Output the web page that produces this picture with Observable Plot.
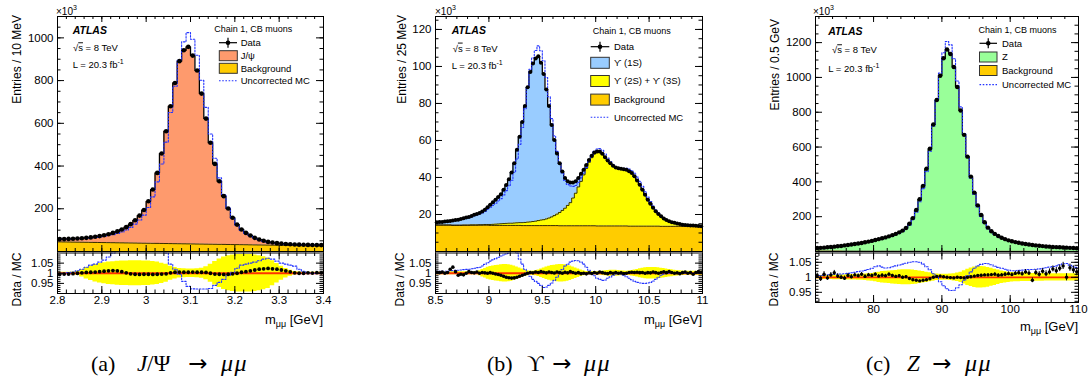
<!DOCTYPE html>
<html><head><meta charset="utf-8">
<script src="https://cdn.jsdelivr.net/npm/d3@7"></script>
<script src="https://cdn.jsdelivr.net/npm/@observablehq/plot@0.6"></script>
<style>
body{margin:0;background:#fff;}
#root{position:relative;width:1089px;height:390px;overflow:hidden;background:#fff;}
#root svg{position:absolute;}
</style></head><body><div id="root"></div>
<script>
// ---------------- DATA ----------------
// J/psi -> mumu : 10 MeV bins from 2.8 GeV
const jpsiBinStart = 2.8, jpsiBinWidth = 0.01;
const jpsiData = [58,58,59,60,61,62,64,66,69,72, 76,81,87,94,103,114,128,146,168,194, 235,290,368,459,563,680,789,891,942,958, 917,847,739,622,509,410,329,259,201,158, 126,103,87,75,64,56,50,45,42,39, 37,35,34,33,32,31.5,31,30.5,30,30];
const jpsiBkg = [45.0,44.7,44.4,44.0,43.7,43.4,43.1,42.8,42.4,42.1, 41.8,41.5,41.2,40.8,40.5,40.2,39.9,39.6,39.2,38.9, 38.6,38.3,38.0,37.6,37.3,37.0,36.7,36.4,36.0,35.7, 35.4,35.1,34.8,34.4,34.1,33.8,33.5,33.2,32.8,32.5, 32.2,31.9,31.6,31.2,30.9,30.6,30.3,30.0,29.6,29.3, 29.0,28.7,28.4,28.0,27.7,27.4,27.1,26.8,26.4,26.1];
const jpsiSignal = [13,13.3,14.6,16,17.3,18.6,20.9,23.2,26.6,29.9, 34.2,39.5,45.8,53.2,62.5,73.8,88.1,106.4,128.8,155.1, 196.4,251.7,330,421.4,525.7,643,752.3,854.6,906,922.3, 881.6,811.9,704.2,587.6,474.9,376.2,295.5,225.8,168.2,125.5, 93.8,71.1,55.4,43.8,33.1,25.4,19.7,15,12.4,9.7, 8,6.3,5.6,5,4.3,4.1,3.9,3.7,3.6,3.9];
const jpsiUncMC = [58,58,58.8,59.6,60.3,60.8,62.1,63.5,66,68.2, 71.4,75,79.1,84.3,91.6,100.9,112.8,128.1,147.4,170.2, 206.1,255.5,325.7,409.8,511.8,650.7,773.5,895.5,981.3,1024.6, 993.5,918.7,801.5,674.6,550.3,436.2,344.5,267,203,157.2, 122.9,99,83.3,71.4,60.7,52.7,46.7,41.9,39.3,36.8, 35.2,33.5,32.7,31.9,31.4,31.2,30.9,30.5,30,30];
const jpsiRatio = [0.995,0.996,0.996,0.998,1.0,1.002,1.004,1.005,1.006,1.008, 1.01,1.012,1.013,1.012,1.008,1.002,0.997,0.995,0.994,0.995, 0.995,0.994,0.995,0.996,0.997,1.002,1.005,1.006,1.005,1.005, 1.006,1.005,1.005,1.004,1.0,0.996,0.995,0.994,0.995,0.997, 1.0,1.005,1.008,1.012,1.016,1.02,1.022,1.024,1.022,1.02, 1.016,1.012,1.007,1.002,1.0,1.0,1.002,1.001,1.003,1.002];
const jpsiSyst = [0.005,0.005,0.005,0.006,0.01,0.018,0.028,0.036,0.043,0.048, 0.052,0.055,0.057,0.059,0.06,0.061,0.062,0.062,0.062,0.061, 0.06,0.058,0.055,0.05,0.045,0.035,0.028,0.024,0.022,0.021, 0.021,0.022,0.025,0.032,0.045,0.058,0.07,0.08,0.087,0.09, 0.092,0.093,0.093,0.092,0.09,0.087,0.082,0.075,0.062,0.048, 0.035,0.024,0.015,0.009,0.006,0.005,0.005,0.005,0.005,0.005];
const jpsiUncRatio = [1.0,1.0,1.003,1.006,1.012,1.02,1.03,1.04,1.045,1.055, 1.065,1.08,1.10,1.115,1.125,1.13,1.135,1.14,1.14,1.14, 1.14,1.135,1.13,1.12,1.10,1.045,1.02,0.995,0.96,0.935, 0.923,0.922,0.922,0.922,0.925,0.94,0.955,0.97,0.99,1.005, 1.025,1.04,1.045,1.05,1.055,1.062,1.07,1.074,1.07,1.06, 1.05,1.045,1.04,1.035,1.02,1.01,1.003,1.0,1.0,1.0];

// Upsilon -> mumu : 25 MeV bins from 8.5 GeV
const upsBinStart = 8.5, upsBinWidth = 0.025;
const upsData = [15.8,15.9,16.0,16.2,16.3,16.5,16.8,17.0,17.2,17.6, 18.0,18.4,18.7,19.2,19.8,20.3,20.8,21.6,22.6,23.9, 25.3,26.6,28.0,29.5,31.0,33.4,36.0,39.0,42.7,47.7, 55.0,62.0,70.0,78.6,88.7,97.0,101.6,104.3,105.5,102.0, 95.9,87.6,78.6,68.4,60.3,53.0,47.7,43.3,39.7,37.9, 37.3,37.3,37.9,39.7,42.0,44.2,46.8,49.5,51.7,53.5, 54.0,54.0,52.8,51.0,49.2,47.7,46.3,45.4,45.0,44.7, 44.5,44.2,43.4,42.4,40.6,38.4,36.1,33.4,30.7,28.0, 25.8,23.7,21.7,20.3,19.0,17.9,17.0,16.3,15.8,15.5, 15.1,14.8,14.5,14.3,14.2,14.1,14.0,13.9,13.8,13.7];
const upsBkg = [14.3,14.3,14.3,14.3,14.3,14.3,14.2,14.2,14.2,14.2, 14.2,14.2,14.2,14.2,14.2,14.2,14.2,14.2,14.2,14.2, 14.1,14.1,14.1,14.1,14.1,14.1,14.1,14.1,14.1,14.1, 14.1,14.1,14.0,14.0,14.0,14.0,14.0,14.0,14.0,14.0, 14.0,14.0,14.0,14.0,14.0,14.0,13.9,13.9,13.9,13.9, 13.9,13.9,13.9,13.9,13.9,13.9,13.9,13.9,13.9,13.9, 13.8,13.8,13.8,13.8,13.8,13.8,13.8,13.8,13.8,13.8, 13.8,13.8,13.7,13.7,13.7,13.7,13.7,13.7,13.7,13.7, 13.7,13.7,13.7,13.7,13.6,13.6,13.6,13.6,13.6,13.6, 13.6,13.6,13.6,13.6,13.6,13.6,13.5,13.5,13.5,13.5];
const upsY23S = [0,0,0,0,0,0,0,0,0,0, 0.1,0.1,0.1,0.2,0.2,0.2,0.3,0.3,0.4,0.4, 0.5,0.6,0.7,0.8,0.9,1.0,1.1,1.2,1.2,1.3, 1.4,1.5,1.6,1.7,1.9,2.0,2.2,2.4,2.7,3.0, 3.2,3.6,4.1,4.7,5.4,6.2,7.2,8.3,9.5,11.0, 12.5,15.0,17.6,21.0,24.0,27.5,31.0,34.3,36.8,38.8, 39.6,39.7,38.6,36.9,35.1,33.7,32.3,31.4,31.0,30.7, 30.5,30.2,29.5,28.5,26.7,24.5,22.2,19.5,16.8,14.1, 11.9,9.8,7.8,6.4,5.2,4.1,3.2,2.5,2.0,1.7, 1.3,1.0,0.7,0.5,0.4,0.3,0.3,0.2,0.1,0.0];
const upsY1S = [1.5,1.6,1.7,1.9,2.0,2.2,2.6,2.8,3.0,3.4, 3.7,4.1,4.4,4.8,5.4,5.9,6.3,7.1,8.0,9.3, 10.7,11.9,13.2,14.6,16.0,18.3,20.8,23.7,27.4,32.3, 39.5,46.4,54.4,62.9,72.8,81.0,85.4,87.9,88.8,85.0, 78.7,70.0,60.5,49.7,40.9,32.8,26.6,21.1,16.3,13.0, 10.9,8.4,6.4,4.8,4.1,2.8,1.9,1.3,1.0,0.8, 0.6,0.5,0.4,0.3,0.3,0.2,0.2,0.2,0.2,0.2, 0.2,0.2,0.2,0.2,0.2,0.2,0.2,0.2,0.2,0.2, 0.2,0.2,0.2,0.2,0.2,0.2,0.2,0.2,0.2,0.2, 0.2,0.2,0.2,0.2,0.2,0.2,0.2,0.2,0.2,0.2];
const upsUncMC = [15.6,15.7,15.8,16.0,16.1,16.3,16.6,16.8,16.9,17.3, 17.7,18.1,18.3,18.8,19.3,19.7,20.2,20.8,21.6,22.7, 23.9,24.9,26.1,27.3,28.6,30.6,32.9,35.5,38.5,42.8, 50.0,57.9,67.0,77.1,88.7,98.5,104.7,108.6,111.1,108.5, 103.1,94.0,83.6,71.8,62.5,54.1,47.7,42.5,38.4,36.3, 35.4,35.2,35.7,37.4,39.8,42.3,45.4,48.8,51.7,54.1, 55.4,55.7,54.7,52.7,50.5,48.6,46.8,45.6,45.0,44.8, 44.9,45.0,44.5,43.8,42.3,40.2,37.9,35.2,32.3,29.4, 27.0,24.6,22.4,20.7,19.2,18.0,17.0,16.3,15.8,15.5, 15.1,14.8,14.5,14.3,14.2,14.1,14.0,13.9,13.8,13.7];
const upsRatio = [1.005,1.003,1.006,1.0,1.004,1.02,1.03,1.008,0.99,0.995, 0.992,1.0,1.008,1.004,1.002,1.006,1.0,1.004,1.002,1.0, 1.003,1.0,0.996,0.994,0.99,0.985,0.98,0.978,0.976,0.977, 0.98,0.985,0.99,0.995,1.0,1.004,1.002,1.006,1.004,1.008, 1.005,1.002,1.006,1.004,1.001,1.006,1.003,1.0,1.005,1.002, 1.008,1.004,1.0,1.003,0.998,1.0,0.997,1.002,0.999,1.004, 1.0,1.006,1.003,1.0,0.998,1.003,1.0,1.004,1.0,1.002, 0.998,1.0,1.004,1.005,1.004,1.005,1.003,1.004,1.0,1.003, 1.002,1.006,1.003,1.0,1.004,1.007,1.003,1.009,1.004,1.0, 1.002,0.998,1.003,1.006,1.0,1.004,0.995,1.004,1.008,1.005];
const upsSyst = [0.008,0.008,0.008,0.008,0.008,0.008,0.008,0.008,0.008,0.008, 0.008,0.008,0.008,0.008,0.008,0.008,0.012,0.018,0.024,0.03, 0.033,0.036,0.038,0.04,0.042,0.043,0.043,0.042,0.04,0.036, 0.031,0.026,0.021,0.016,0.012,0.01,0.01,0.012,0.016,0.021, 0.026,0.031,0.035,0.038,0.04,0.042,0.043,0.043,0.042,0.04, 0.036,0.031,0.026,0.021,0.016,0.012,0.009,0.008,0.008,0.008, 0.008,0.009,0.01,0.012,0.014,0.015,0.015,0.015,0.014,0.012, 0.011,0.01,0.011,0.013,0.016,0.019,0.022,0.025,0.027,0.028, 0.029,0.029,0.028,0.027,0.025,0.023,0.021,0.019,0.017,0.015, 0.013,0.012,0.011,0.01,0.01,0.01,0.01,0.01,0.01,0.01];
const upsUncRatio = [1.01,1.01,1.01,1.01,1.01,1.012,1.013,1.014,1.015,1.016, 1.018,1.019,1.02,1.022,1.025,1.028,1.03,1.036,1.044,1.052, 1.06,1.066,1.072,1.079,1.085,1.09,1.095,1.10,1.11,1.115, 1.10,1.07,1.045,1.02,1.0,0.985,0.97,0.96,0.95,0.94, 0.93,0.932,0.94,0.952,0.965,0.98,1.0,1.018,1.035,1.045, 1.055,1.06,1.063,1.062,1.055,1.045,1.03,1.015,1.0,0.988, 0.975,0.97,0.965,0.967,0.975,0.982,0.99,0.996,1.0,0.997, 0.99,0.983,0.975,0.968,0.96,0.955,0.952,0.95,0.95,0.952, 0.955,0.962,0.97,0.98,0.99,0.995,1.0,1.0,1.0,1.0, 1.0,1.0,1.0,1.0,1.0,1.0,1.0,1.0,1.0,1.0];

// Z -> mumu : 0.5 GeV bins from 71.5 GeV
const zBinStart = 71.5, zBinWidth = 0.5;
const zData = [20,21,22,24,26,28,30,32,35,37, 40,43,46,49,53,57,61,66,71,76, 81,87,94,101,110,120,135,159,192,238, 300,377,475,590,730,870,1010,1110,1160,1135, 1060,945,810,670,545,430,338,265,210,168, 137,116,101,89,79,71,64,59,54,50, 46,43,40,37,35,33,31,29,28,26, 25,24,23,22,21,20,19];
const zBkg = [2.4,2.4,2.3,2.3,2.3,2.2,2.2,2.2,2.1,2.1, 2.1,2.0,2.0,2.0,1.9,1.9,1.9,1.8,1.8,1.8, 1.7,1.7,1.7,1.6,1.6,1.6,1.5,1.5,1.5,1.5, 1.4,1.4,1.4,1.4,1.3,1.3,1.3,1.3,1.3,1.2, 1.2,1.2,1.2,1.2,1.1,1.1,1.1,1.1,1.1,1.0, 1.0,1.0,1.0,1.0,1.0,0.9,0.9,0.9,0.9,0.9, 0.9,0.9,0.8,0.8,0.8,0.8,0.8,0.8,0.8,0.8, 0.7,0.7,0.7,0.7,0.7,0.7,0.7];
const zSignal = [17.6,18.6,19.7,21.7,23.7,25.8,27.8,29.8,32.9,34.9, 37.9,41.0,44.0,47.0,51.1,55.1,59.1,64.2,69.2,74.2, 79.3,85.3,92.3,99.4,108.4,118.4,133.5,157.5,190.5,236.5, 298.6,375.6,473.6,588.6,728.7,868.7,1008.7,1108.7,1158.7,1133.8, 1058.8,943.8,808.8,668.8,543.9,428.9,336.9,263.9,208.9,167.0, 136.0,115.0,100.0,88.0,78.0,70.1,63.1,58.1,53.1,49.1, 45.1,42.1,39.2,36.2,34.2,32.2,30.2,28.2,27.2,25.2, 24.3,23.3,22.3,21.3,20.3,19.3,18.3];
const zUncMC = [19.9,20.9,21.8,23.8,25.8,27.7,29.7,31.7,34.6,36.5, 39.4,42.3,45.1,48,51.8,55.6,59.2,63.8,68.4,73.5, 78.6,84.3,90.8,97.3,105.7,114.9,128.9,151.4,182.5,226.2, 285.7,361.1,458.9,575.6,721.3,870,1025.4,1142,1206,1187, 1107.6,979.3,830.8,676.8,542.3,422.4,328.2,255.3,201.3,160.6, 131.1,111.3,97.4,86.2,76.7,69.1,62.5,57.7,52.8,48.9, 44.9,41.9,39,36.1,34.1,32.1,30.1,28.1,27.1,25.1, 24.1,23,22,21,20.2,19.3,18.4];
const zRatio = [1.005,0.995,1.01,0.998,1.008,1.015,1.004,1.0,0.997,1.006, 1.002,1.008,1.005,1.01,1.003,1.008,1.006,1.01,1.004,1.007, 1.005,1.01,1.006,1.003,1.005,1.0,1.002,0.996,0.992,0.99, 0.988,0.99,0.992,0.995,1.0,1.003,1.004,1.002,1.0,0.999, 0.998,1.0,0.999,0.998,1.0,1.002,1.004,1.006,1.007,1.008, 1.008,1.009,1.01,1.007,1.008,1.01,1.012,1.009,1.013,1.015, 1.012,1.018,1.014,0.99,1.016,1.01,1.02,1.012,1.018,1.028, 1.022,1.03,1.038,1.0,1.032,1.025,1.018];
const zRatioErr = [0.009,0.009,0.009,0.008,0.008,0.008,0.008,0.007,0.007,0.007, 0.007,0.006,0.006,0.006,0.006,0.005,0.005,0.005,0.005,0.005, 0.005,0.005,0.004,0.004,0.004,0.004,0.004,0.003,0.003,0.003, 0.003,0.003,0.003,0.003,0.003,0.003,0.003,0.003,0.003,0.003, 0.003,0.003,0.003,0.003,0.003,0.003,0.003,0.003,0.003,0.003, 0.004,0.004,0.005,0.005,0.005,0.006,0.006,0.006,0.007,0.007, 0.007,0.008,0.008,0.008,0.009,0.009,0.009,0.01,0.01,0.01, 0.011,0.011,0.012,0.012,0.012,0.013,0.013];
const zSyst = [0.006,0.006,0.007,0.007,0.007,0.008,0.008,0.008,0.008,0.009, 0.009,0.009,0.01,0.01,0.011,0.012,0.013,0.015,0.017,0.019, 0.02,0.021,0.022,0.023,0.024,0.025,0.025,0.025,0.024,0.023, 0.021,0.019,0.017,0.015,0.013,0.011,0.01,0.01,0.01,0.011, 0.012,0.014,0.017,0.022,0.027,0.031,0.034,0.036,0.036,0.035, 0.033,0.03,0.027,0.024,0.021,0.019,0.017,0.016,0.015,0.015, 0.014,0.014,0.014,0.013,0.013,0.013,0.013,0.012,0.012,0.012, 0.012,0.012,0.012,0.012,0.012,0.012,0.012];
const zUncRatio = [1.005,1.006,1.007,1.008,1.009,1.01,1.01,1.011,1.012,1.013, 1.015,1.017,1.019,1.021,1.023,1.026,1.03,1.035,1.038,1.034, 1.031,1.032,1.035,1.038,1.041,1.044,1.047,1.05,1.052,1.052, 1.05,1.044,1.035,1.025,1.012,1.0,0.985,0.972,0.962,0.956, 0.957,0.965,0.975,0.99,1.005,1.018,1.03,1.038,1.043,1.046, 1.045,1.042,1.037,1.033,1.03,1.027,1.024,1.022,1.022,1.023, 1.024,1.025,1.026,1.026,1.027,1.028,1.03,1.032,1.034,1.036, 1.038,1.042,1.045,1.046,1.04,1.035,1.033];

// tick labels
const jpsiXTicks = [2.8,2.9,3.0,3.1,3.2,3.3,3.4];
const jpsiYTicks = [200,400,600,800,1000];
const upsXTicks = [8.5,9,9.5,10,10.5,11];
const upsYTicks = [20,40,60,80,100,120];
const zXTicks = [80,90,100,110];
const zYTicks = [200,400,600,800,1000,1200];
const ratioYTicks = [0.95,1,1.05];

// ---------------- DRAWING ----------------
const FONT = '"Liberation Sans", Arial, Helvetica, sans-serif';
const root = document.getElementById("root");

function stepRows(start, bw, vals) {
  const rows = vals.map((v, i) => ({x: start + i * bw, v}));
  rows.push({x: start + vals.length * bw, v: vals[vals.length - 1]});
  return rows;
}
function centerRows(start, bw, vals, errs) {
  return vals.map((v, i) => ({x: start + (i + 0.5) * bw, v, e: errs ? errs[i] : 0}));
}
function stackRows(start, bw, comps) {
  const n = comps[0].length;
  const out = comps.map(() => []);
  for (let i = 0; i <= n; i++) {
    const j = Math.min(i, n - 1);
    let base = 0;
    comps.forEach((c, k) => { out[k].push({x: start + i * bw, y1: base, y2: base + c[j]}); base += c[j]; });
  }
  return out;
}
function ticksY(vals, len, fw) {
  return [Plot.tickY(vals, {y: d => d, insetRight: fw - len, stroke: "#000", strokeWidth: 1}),
          Plot.tickY(vals, {y: d => d, insetLeft: fw - len, stroke: "#000", strokeWidth: 1})];
}
function ticksX(vals, len, fh) {
  return [Plot.tickX(vals, {x: d => d, insetTop: fh - len, stroke: "#000", strokeWidth: 1}),
          Plot.tickX(vals, {x: d => d, insetBottom: fh - len, stroke: "#000", strokeWidth: 1})];
}
function place(svg, left, top) {
  svg.style.left = left + "px"; svg.style.top = top + "px";
  root.appendChild(svg);
}
const plotStyle = {fontFamily: FONT, fontSize: "11.5px", background: "transparent", overflow: "visible", color: "#000"};

function mainPlot(o) {
  const fw = o.width - o.ml - o.mr, fh = o.height - o.mt - o.mb;
  const layers = stackRows(o.start, o.bw, o.comps);
  const marks = [];
  layers.forEach((rows, k) => marks.push(Plot.areaY(rows, {x: "x", y1: "y1", y2: "y2", fill: o.colors[k], curve: "step-after"})));
  layers.forEach((rows, k) => marks.push(Plot.lineY(rows, {x: "x", y: "y2", stroke: "#000", strokeWidth: k === layers.length - 1 ? 1.3 : 0.8, curve: "step-after"})));
  marks.push(Plot.lineY(stepRows(o.start, o.bw, o.unc), {x: "x", y: "v", stroke: "#2233ff", strokeWidth: 1.1, strokeDasharray: "1.6,1.6", curve: "step-after", clip: true}));
  marks.push(Plot.dot(centerRows(o.start, o.bw, o.data), {x: "x", y: "v", r: o.r, fill: "#000"}));
  marks.push(...ticksY(o.yMinor, 3.5, fw), ...ticksY(o.yMajor, 7, fw), ...ticksX(o.xMinor, 3, fh), ...ticksX(o.xMajor, 6, fh));
  marks.push(Plot.axisY({ticks: o.yMajor, tickSize: 0, tickPadding: 4, label: null, tickFormat: d => String(d)}));
  marks.push(Plot.frame({stroke: "#000", strokeWidth: 1}));
  return Plot.plot({width: o.width, height: o.height, marginLeft: o.ml, marginRight: o.mr, marginTop: o.mt, marginBottom: o.mb,
    x: {domain: o.xDomain, axis: null}, y: {domain: o.yDomain}, style: plotStyle, marks});
}

function ratioPlot(o) {
  const fw = o.width - o.ml - o.mr, fh = o.height - o.mt - o.mb;
  const band = o.syst.map((w, i) => ({x: o.start + i * o.bw, y1: 1 - w, y2: 1 + w}));
  band.push({...band[band.length - 1], x: o.start + o.syst.length * o.bw});
  const pts = centerRows(o.start, o.bw, o.ratio, o.err);
  const marks = [
    Plot.areaY(band, {x: "x", y1: "y1", y2: "y2", fill: "#ffff00", curve: "step-after", clip: true}),
    Plot.ruleY([1], {stroke: "#ff3300", strokeWidth: 1.8}),
    Plot.lineY(stepRows(o.start, o.bw, o.unc), {x: "x", y: "v", stroke: "#2233ff", strokeWidth: 1.1, strokeDasharray: "1.6,1.6", curve: "step-after", clip: true})
  ];
  if (o.err) marks.push(Plot.ruleX(pts, {x: "x", y1: d => d.v - d.e, y2: d => d.v + d.e, stroke: "#000", strokeWidth: 1, clip: true}));
  marks.push(Plot.dot(pts, {x: "x", y: "v", r: o.r, fill: "#000", clip: true}));
  marks.push(...ticksY(o.yMinor, 3.5, fw), ...ticksY(ratioYTicks, 7, fw), ...ticksX(o.xMinor, 3.5, fh), ...ticksX(o.xMajor, 7, fh));
  marks.push(Plot.axisY({ticks: ratioYTicks, tickSize: 0, tickPadding: 4, label: null, tickFormat: d => d === 1 ? "1" : d.toFixed(2)}));
  marks.push(Plot.axisX({ticks: o.xMajor, tickSize: 0, tickPadding: 2, label: null, tickFormat: d => String(+d.toFixed(2))}));
  marks.push(Plot.frame({stroke: "#000", strokeWidth: 1}));
  return Plot.plot({width: o.width, height: o.height, marginLeft: o.ml, marginRight: o.mr, marginTop: o.mt, marginBottom: o.mb,
    x: {domain: o.xDomain}, y: {domain: o.yDomain}, style: plotStyle, marks});
}

const rng = (a, b, s) => d3.range(Math.round(a / s), Math.round(b / s) + 1).map(i => +(i * s).toFixed(4));

// Panel (a)
place(mainPlot({width: 340, height: 252, ml: 57, mr: 17, mt: 16, mb: 1, xDomain: [2.8, 3.4], yDomain: [0, 1100],
  start: jpsiBinStart, bw: jpsiBinWidth, comps: [jpsiBkg, jpsiSignal], colors: ["#ffcc00", "#fe9a6d"],
  unc: jpsiUncMC, data: jpsiData, r: 2.3,
  yMajor: jpsiYTicks, yMinor: rng(50, 1050, 50), xMajor: jpsiXTicks, xMinor: rng(2.8, 3.4, 0.02)}), 0, 0);
place(ratioPlot({width: 340, height: 80, ml: 57, mr: 17, mt: 2.5, mb: 37, xDomain: [2.8, 3.4], yDomain: [0.9, 1.1],
  start: jpsiBinStart, bw: jpsiBinWidth, syst: jpsiSyst, ratio: jpsiRatio, unc: jpsiUncRatio, r: 1.9,
  yMinor: rng(0.91, 1.09, 0.01), xMajor: jpsiXTicks, xMinor: rng(2.8, 3.4, 0.02)}), 0, 250);

// Panel (b)
place(mainPlot({width: 340, height: 252, ml: 65, mr: 8, mt: 16, mb: 1, xDomain: [8.5, 11], yDomain: [0, 127],
  start: upsBinStart, bw: upsBinWidth, comps: [upsBkg, upsY23S, upsY1S], colors: ["#ffcc00", "#ffff00", "#99ccff"],
  unc: upsUncMC, data: upsData, r: 2,
  yMajor: upsYTicks, yMinor: rng(5, 125, 5), xMajor: upsXTicks, xMinor: rng(8.5, 11, 0.1)}), 370, 0);
place(ratioPlot({width: 340, height: 80, ml: 65, mr: 8, mt: 2.5, mb: 37, xDomain: [8.5, 11], yDomain: [0.9, 1.1],
  start: upsBinStart, bw: upsBinWidth, syst: upsSyst, ratio: upsRatio, unc: upsUncRatio, r: 1.8,
  yMinor: rng(0.91, 1.09, 0.01), xMajor: upsXTicks, xMinor: rng(8.5, 11, 0.1)}), 370, 250);

// Panel (c)
place(mainPlot({width: 344, height: 252, ml: 70, mr: 11, mt: 16, mb: 1, xDomain: [71.5, 110], yDomain: [0, 1350],
  start: zBinStart, bw: zBinWidth, comps: [zBkg, zSignal], colors: ["#ffcc00", "#99ff99"],
  unc: zUncMC, data: zData, r: 2.2,
  yMajor: zYTicks, yMinor: rng(50, 1300, 50), xMajor: zXTicks, xMinor: rng(72, 110, 2)}), 745, 0);
place(ratioPlot({width: 344, height: 90, ml: 70, mr: 11, mt: 2.5, mb: 38, xDomain: [71.5, 110], yDomain: [0.916, 1.081],
  start: zBinStart, bw: zBinWidth, syst: zSyst, ratio: zRatio, unc: zUncRatio, err: zRatioErr, r: 1.7,
  yMinor: rng(0.92, 1.08, 0.01), xMajor: zXTicks, xMinor: rng(72, 110, 2)}), 745, 250);

// ---------------- TEXT OVERLAY ----------------
function legendBox(x, y, w, h, fill) { return `<rect x="${x}" y="${y - h / 2}" width="${w}" height="${h}" fill="${fill}" stroke="#333" stroke-width="1"/>`; }
function legendData(x, y, w) { return `<line x1="${x}" x2="${x + w}" y1="${y}" y2="${y}" stroke="#000" stroke-width="1.2"/><line x1="${x + w / 2}" x2="${x + w / 2}" y1="${y - 5}" y2="${y + 5}" stroke="#000" stroke-width="1.2"/><circle cx="${x + w / 2}" cy="${y}" r="2.3" fill="#000"/>`; }
function legendDotted(x, y, w) { return `<line x1="${x}" x2="${x + w}" y1="${y}" y2="${y}" stroke="#2233ff" stroke-width="1.1" stroke-dasharray="1.6,1.6"/>`; }
function t(x, y, s, extra = "") { return `<text x="${x}" y="${y}" ${extra}>${s}</text>`; }
function info(x, yA, yS, yL, xS) {
  return t(x, yA + 3.7, "ATLAS", 'font-size="10.5" font-weight="bold" font-style="italic"') +
    t(xS, yS + 3.3, '√<tspan style="text-decoration:overline">s</tspan> = 8 TeV', 'font-size="9.5"') +
    t(x, yL + 3.3, 'L = 20.3 fb<tspan dy="-4" font-size="7">-1</tspan>', 'font-size="9.5"');
}
function x10(x) { return t(x, 14.5, '×10<tspan dy="-5" font-size="7">3</tspan>', 'font-size="10"'); }
function ytitle(x, yTop, s) { return `<text transform="translate(${x},${yTop}) rotate(-90)" text-anchor="end" dominant-baseline="central" font-size="12">${s}</text>`; }
function xtitle(xr, y) { return `<text x="${xr}" y="${y}" text-anchor="end" font-size="13">m<tspan font-size="9" dy="3">μμ</tspan><tspan dy="-3"> [GeV]</tspan></text>`; }
const SERIF = "'Liberation Serif','DejaVu Serif',serif";
function capText(x, y, s, size, italic, spacing = 0) {
  return `<text x="${x}" y="${y}" font-family="${SERIF}" font-size="${size}" ${italic ? 'font-style="italic"' : ''} letter-spacing="${spacing}">${s}</text>`;
}
function capArrow(xc, y) {
  return `<text x="${xc}" y="${y}" text-anchor="middle" font-family="'DejaVu Sans',sans-serif" font-size="23">→</text>`;
}

let s = "";
// panel a
s += x10(56) + info(72.7, 30.7, 48, 65, 73);
s += t(214.3, 32.2, "Chain 1, CB muons", 'font-size="9"');
s += legendData(219, 42.7, 18) + t(240.7, 46, "Data", 'font-size="9.5"');
s += legendBox(219.3, 55.7, 18, 10, "#fe9a6d") + t(240.7, 59, "J/ψ", 'font-size="9.5"');
s += legendBox(219.3, 68.3, 18, 10, "#ffcc00") + t(240.7, 71.6, "Background", 'font-size="9.5"');
s += legendDotted(219, 80.7, 18) + t(240.7, 84, "Uncorrected MC", 'font-size="9.5"');
s += ytitle(17, 15, "Entries / 10 MeV") + ytitle(17, 252.5, "Data / MC") + xtitle(323, 324);
s += capText(91, 371, "(a)", 22) + capText(137, 371, "J", 23, true) + capText(147, 371, "/Ψ", 23) + capArrow(198, 371) + capText(221, 371, "μμ", 24, true, 1.5);
// panel b
s += x10(435) + info(451.7, 30.7, 48.3, 65.7, 452.7);
s += t(592.7, 34.2, "Chain 1, CB muons", 'font-size="9"');
s += legendData(590.7, 46.7, 18.6) + t(614, 50, "Data", 'font-size="9.5"');
s += legendBox(590.7, 62.8, 18.6, 11, "#99ccff") + t(614, 66, "ϒ (1S)", 'font-size="9.5"');
s += legendBox(590.7, 81, 18.6, 11, "#ffff00") + t(614, 84.3, "ϒ (2S) + ϒ (3S)", 'font-size="9.5"');
s += legendBox(590.7, 99.6, 18.6, 11, "#ffcc00") + t(614, 102.9, "Background", 'font-size="9.5"');
s += legendDotted(590.7, 117.3, 18.6) + t(614, 120.6, "Uncorrected MC", 'font-size="9.5"');
s += ytitle(401.7, 15, "Entries / 25 MeV") + ytitle(400, 252.5, "Data / MC") + xtitle(702, 324);
s += capText(487, 371, "(b)", 22) + capText(527, 371, "ϒ", 23) + capArrow(562, 371) + capText(584, 371, "μμ", 24, true, 1.5);
// panel c
s += x10(813) + info(828.3, 31.3, 50, 69, 832);
s += t(978.5, 33, "Chain 1, CB muons", 'font-size="9"');
s += legendData(979.5, 43.3, 17.5) + t(1002, 46.6, "Data", 'font-size="9.5"');
s += legendBox(979.5, 57, 17.5, 10, "#99ff99") + t(1002, 60.3, "Z", 'font-size="9.5"');
s += legendBox(979.5, 70.5, 17.5, 10, "#ffcc00") + t(1002, 73.8, "Background", 'font-size="9.5"');
s += legendDotted(979.5, 84.6, 17.5) + t(1002, 87.9, "Uncorrected MC", 'font-size="9.5"');
s += ytitle(775, 19, "Entries / 0.5 GeV") + ytitle(774, 252.5, "Data / MC") + xtitle(1078, 331);
s += capText(866, 371, "(c)", 22) + capText(907, 371, "Z", 23, true) + capArrow(942, 371) + capText(965, 371, "μμ", 24, true, 1.5);

const ov = document.createElementNS("http://www.w3.org/2000/svg", "svg");
ov.setAttribute("width", 1089); ov.setAttribute("height", 390);
ov.setAttribute("font-family", FONT);
ov.style.left = "0px"; ov.style.top = "0px"; ov.style.pointerEvents = "none";
ov.innerHTML = s;
root.appendChild(ov);
</script></body></html>
